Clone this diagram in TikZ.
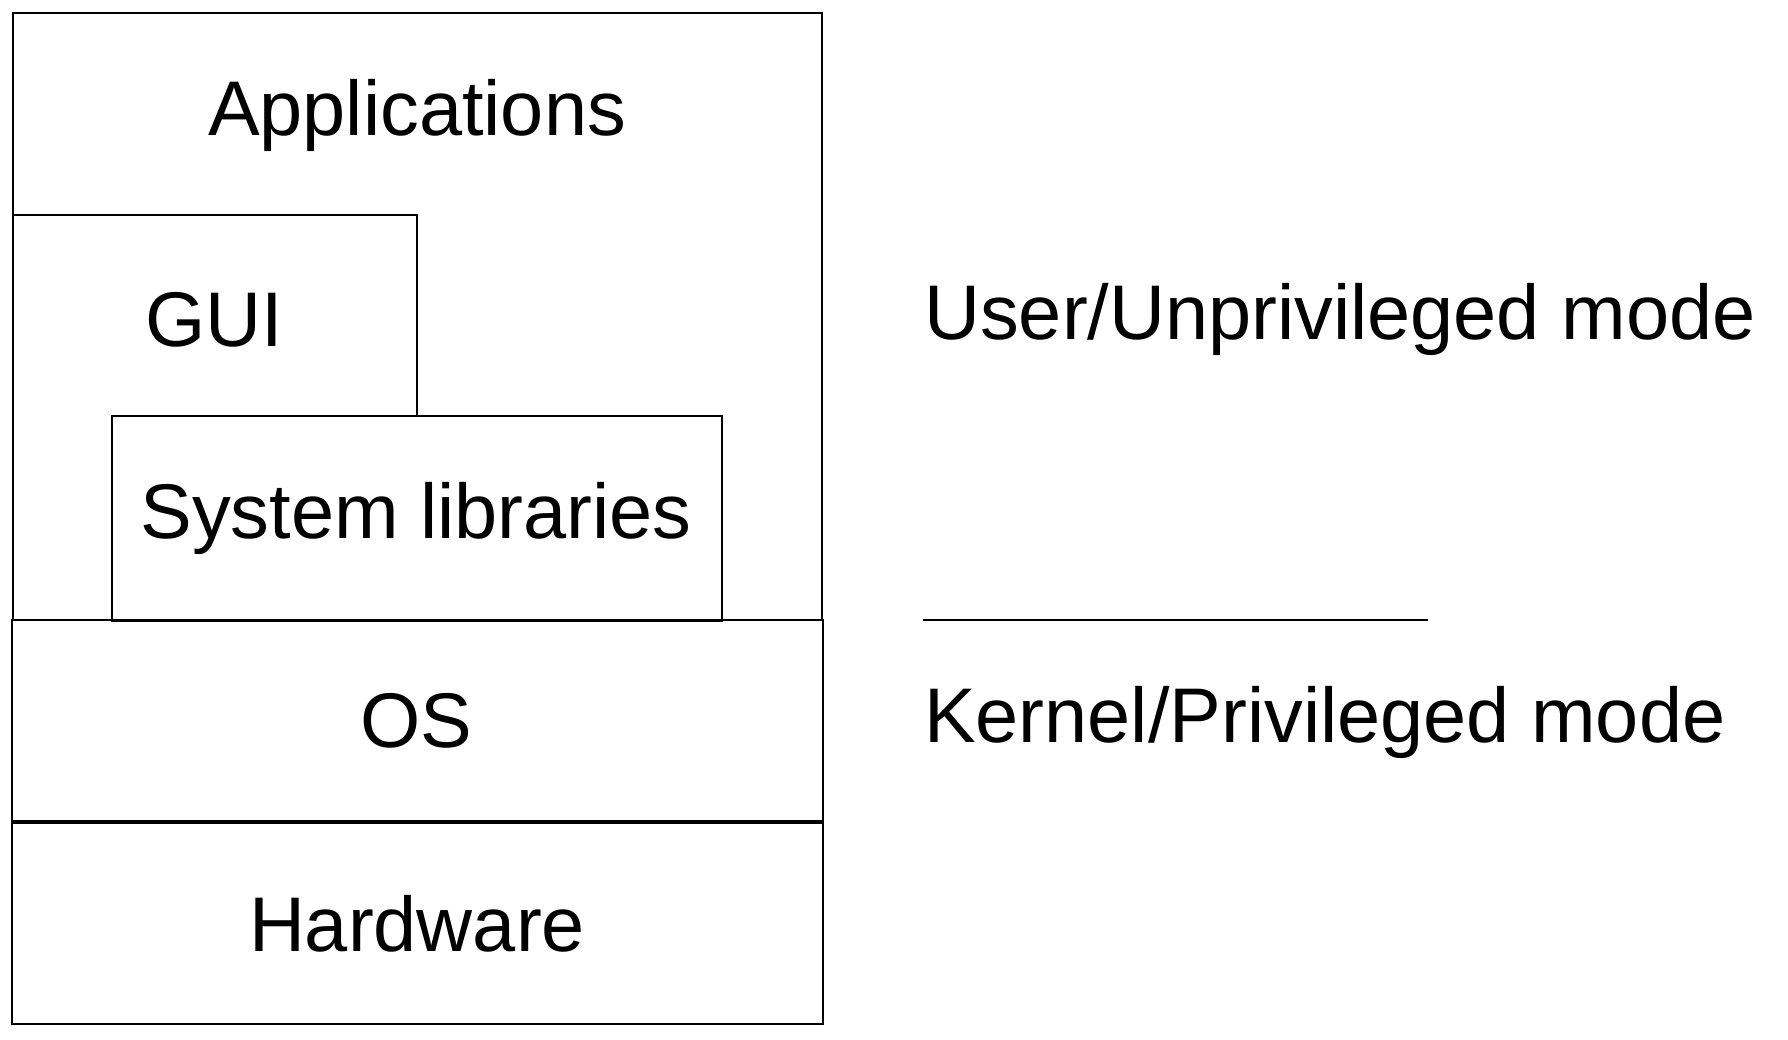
\documentclass[tikz,border=0pt]{standalone}
\usepackage{fontspec}
\setmainfont{Liberation Sans}
\begin{document}
\begin{tikzpicture}[x=1pt,y=-1pt,
  box/.style={draw=black,line width=2.2pt},
  lbl/.style={anchor=base,inner sep=0pt,font=\fontsize{77.5}{90}\selectfont}]
\useasboundingbox[fill=white] (0,0) rectangle (1788,1039);
% boxes
\draw[box] (13,13) rectangle (822,620);
\draw[box] (13,215) -- (417,215) -- (417,416);
\draw[box,fill=white] (112,416) rectangle (722,621);
\draw[box] (12,620) rectangle (823,822);
\draw[box] (12,822) rectangle (823,1024);
\draw[line width=3.4pt] (12,822) -- (823,822);
% labels
\node[lbl] (apps) at (417,135) {Applications};
\node[lbl] (gui) at (214,346) {GUI};
\node[lbl] (sys) at (416,538) {System libraries};
\node[lbl] (os) at (416,747) {OS};
\node[lbl] (hw) at (417,951) {Hardware};
\node[lbl,anchor=base west] (user) at (924,339) {User/Unprivileged mode};
\node[lbl,anchor=base west] (kern) at (924,742) {Kernel/Privileged mode};
\coordinate (sepa) at (923,620);
\coordinate (sepb) at (1428,620);
\draw[line width=2.4pt] (sepa) -- (sepb);
\end{tikzpicture}
\end{document}
